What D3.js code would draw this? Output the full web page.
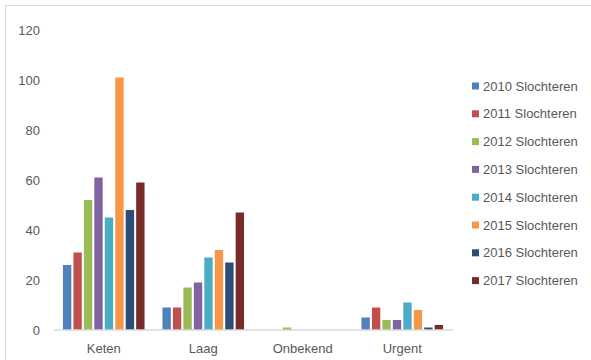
<!DOCTYPE html>
<html><head><meta charset="utf-8">
<script src="https://cdn.jsdelivr.net/npm/d3@7"></script>
<style>body{margin:0;background:#fff}svg{display:block}text{font-family:"Liberation Sans",Arial,sans-serif;fill:#595959}</style>
</head><body><svg id="c" width="591" height="360"></svg>
<script>
const categories = ["Keten","Laag","Onbekend","Urgent"];
const seriesNames = ["2010 Slochteren","2011 Slochteren","2012 Slochteren","2013 Slochteren","2014 Slochteren","2015 Slochteren","2016 Slochteren","2017 Slochteren"];
const s2010 = [26, 9, 0, 5];
const s2011 = [31, 9, 0, 9];
const s2012 = [52, 17, 1, 4];
const s2013 = [61, 19, 0, 4];
const s2014 = [45, 29, 0, 11];
const s2015 = [101, 32, 0, 8];
const s2016 = [48, 27, 0, 1];
const s2017 = [59, 47, 0, 2];
const seriesValues = [s2010,s2011,s2012,s2013,s2014,s2015,s2016,s2017];
const colors = ["#4F81BD","#C0504D","#9BBB59","#8064A2","#4BACC6","#F79646","#2C4D75","#772C2A"];
const yTicks = [0,20,40,60,80,100,120];

const svg = d3.select("#c");
// frame
svg.append("rect").attr("x",5.5).attr("y",5.5).attr("width",600).attr("height",400)
  .attr("fill","none").attr("stroke","#d9d9d9");

const x = d3.scaleBand().domain(categories).range([54,452]).paddingInner(0.18).paddingOuter(0.09);
const y = d3.scaleLinear().domain([0,120]).range([330,30]);
const xs = d3.scaleBand().domain(d3.range(seriesNames.length)).range([0,x.bandwidth()]).paddingInner(0.2);

// y labels
const ya = svg.append("g").attr("transform","translate(40,0)")
  .call(d3.axisLeft(y).tickValues(yTicks).tickSize(0).tickPadding(0));
ya.select(".domain").remove();
ya.selectAll("text").attr("font-size",13).style("font-family","Liberation Sans, Arial, sans-serif").attr("fill","#595959");

// bars
categories.forEach((c,ci)=>{
  seriesValues.forEach((vals,si)=>{
    const v = vals[ci];
    if (v<=0) return;
    svg.append("rect")
      .attr("x", x(c)+xs(si))
      .attr("y", y(v))
      .attr("width", xs.bandwidth())
      .attr("height", y(0)-y(v))
      .attr("fill", colors[si]);
  });
});

// x axis
const xa = svg.append("g").attr("transform","translate(0,330)")
  .call(d3.axisBottom(x).tickSize(0).tickPadding(14));
xa.select(".domain").attr("stroke","#d9d9d9").attr("stroke-width",1.5).attr("d","M54,0H453");
xa.selectAll("text").attr("font-size",13).style("font-family","Liberation Sans, Arial, sans-serif").attr("fill","#595959");

// legend
const lg = svg.append("g");
seriesNames.forEach((n,i)=>{
  const yy = 86 + i*27.8;
  lg.append("rect").attr("x",472).attr("y",yy-3.5).attr("width",7).attr("height",7).attr("fill",colors[i]);
  lg.append("text").attr("x",483).attr("y",yy).attr("dy","0.35em").attr("font-size",13).text(n);
});
</script></body></html>
